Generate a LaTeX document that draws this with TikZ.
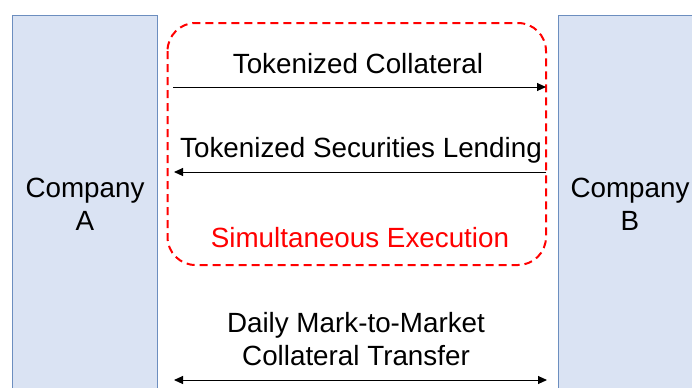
\documentclass[tikz,border=0pt]{standalone}
\usepackage{fontspec}
\setmainfont{Liberation Sans}
\usepackage{tikz}
\usetikzlibrary{arrows.meta}
\definecolor{boxfill}{HTML}{DAE3F3}
\definecolor{boxline}{HTML}{6C8EBF}

\begin{document}
\begin{tikzpicture}[x=0.5pt,y=-0.5pt,
    company/.style={draw=boxline,fill=boxfill,line width=0.75pt},
    lbl/.style={font=\fontsize{13.9}{16.5}\selectfont,align=center,inner sep=0pt,anchor=base},
    flow/.style={-{Triangle[length=4.5pt,width=4pt]},line width=0.5pt}]
            \useasboundingbox (0,0) rectangle (692,387);
            \clip (0,0) rectangle (692,387);

            % the two companies
            \draw[company] (12.5,15.5) rectangle (157.5,400);
            \draw[company] (558.5,15.5) rectangle (710,400);
            \node[lbl] (compA) at (85,230) {Company\\A};
            \node[lbl] (compB) at (630,230) {Company\\B};

            % simultaneous block
            \draw[red,line width=1pt,dash pattern=on 4pt off 2.5pt,rounded corners=14pt]
                (167.5,23) rectangle (546,265);
            \node[lbl] (coll) at (358,73) {Tokenized Collateral};
            \node[lbl] (lend) at (361,157.5) {Tokenized Securities Lending};
            \node[lbl,text=red] (simul) at (360,247) {Simultaneous Execution};

            \coordinate (c1) at (173,87);
            \coordinate (c2) at (546,87);
            \draw[flow] (c1) -- (c2);
            \coordinate (l1) at (546,172);
            \coordinate (l2) at (174,172);
            \draw[flow] (l1) -- (l2);

            % daily transfer
            \node[lbl] (daily) at (356,365) {Daily Mark-to-Market\\Collateral Transfer};
            \coordinate (d1) at (174,380);
            \coordinate (d2) at (547,380);
            \draw[flow,{Triangle[length=4.5pt,width=4pt]}-{Triangle[length=4.5pt,width=4pt]}] (d1) -- (d2);
\end{tikzpicture}
\end{document}
